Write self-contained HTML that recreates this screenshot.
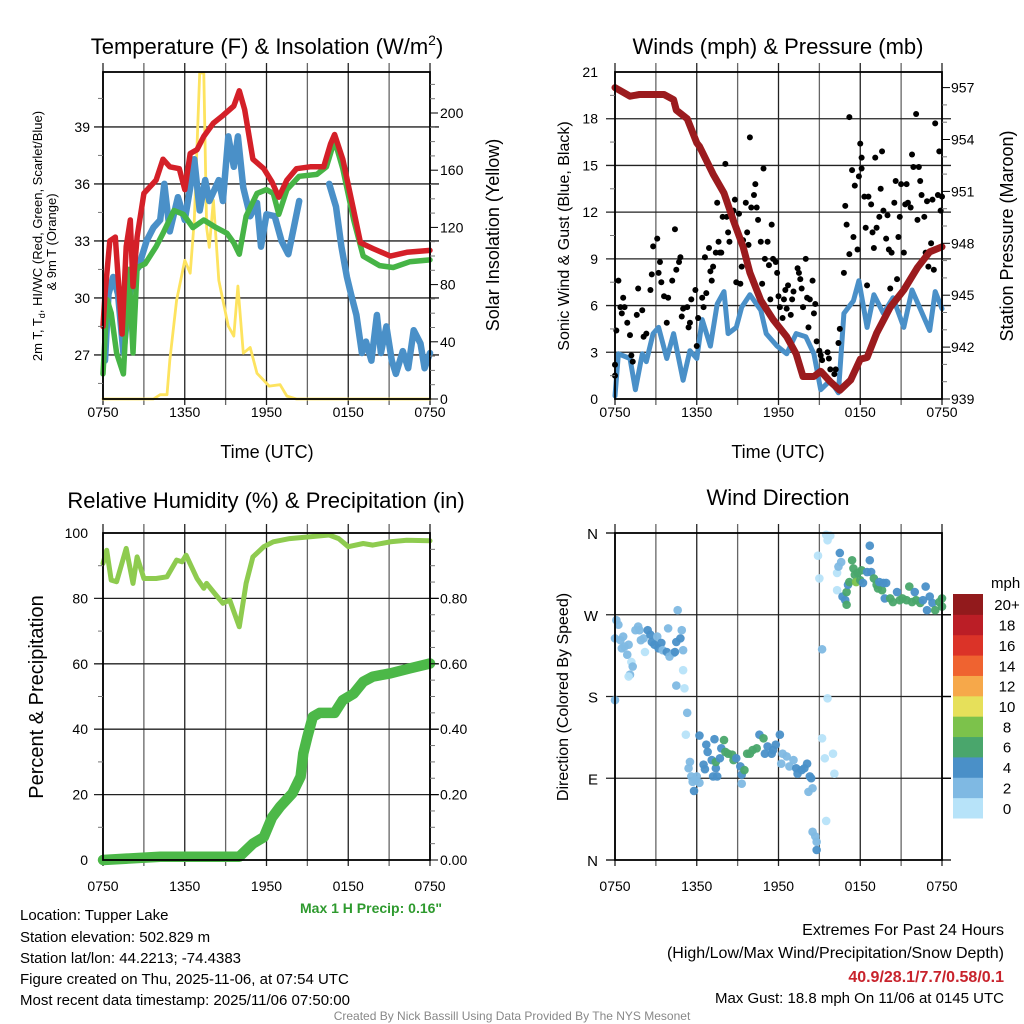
<!DOCTYPE html>
<html><head><meta charset="utf-8">
<style>
html,body{margin:0;padding:0;background:#fff;}
svg{display:block;font-family:"Liberation Sans",Arial,sans-serif;}
</style></head>
<body>
<svg id="chart" width="1024" height="1024" viewBox="0 0 1024 1024" xmlns="http://www.w3.org/2000/svg">
<rect x="0" y="0" width="1024" height="1024" fill="#fff"/>
<g id="layer-grid"></g>
<g id="layer-data"></g>
<g id="layer-axes"></g>
<!-- titles -->
<text x="267" y="54" font-size="22" text-anchor="middle">Temperature (F) &amp; Insolation (W/m<tspan font-size="14" dy="-9">2</tspan><tspan dy="9">)</tspan></text>
<text x="778" y="54" font-size="22" text-anchor="middle">Winds (mph) &amp; Pressure (mb)</text>
<text x="266" y="508" font-size="22" text-anchor="middle">Relative Humidity (%) &amp; Precipitation (in)</text>
<text x="778" y="505" font-size="22" text-anchor="middle">Wind Direction</text>
<text x="267" y="458" font-size="18" text-anchor="middle">Time (UTC)</text>
<text x="778" y="458" font-size="18" text-anchor="middle">Time (UTC)</text>
<g font-size="13" text-anchor="middle">
<text transform="translate(42,236) rotate(-90)">2m T, T<tspan font-size="9" dy="3">d</tspan><tspan dy="-3">, HI/WC (Red, Green, Scarlet/Blue)</tspan></text>
<text transform="translate(56,242) rotate(-90)">&amp; 9m T (Orange)</text>
</g>
<text transform="translate(499,235) rotate(-90)" font-size="18" text-anchor="middle">Solar Insolation (Yellow)</text>
<text transform="translate(569,236) rotate(-90)" font-size="16" text-anchor="middle">Sonic Wind &amp; Gust (Blue, Black)</text>
<text transform="translate(1013,236) rotate(-90)" font-size="18" text-anchor="middle">Station Pressure (Maroon)</text>
<text transform="translate(43,697) rotate(-90)" font-size="20" text-anchor="middle">Percent &amp; Precipitation</text>
<text transform="translate(568,697) rotate(-90)" font-size="16" text-anchor="middle">Direction (Colored By Speed)</text>
<text x="300" y="913" font-size="14" font-weight="bold" fill="#2e9a2e">Max 1 H Precip: 0.16"</text>
<g font-size="15">
<text x="20" y="920">Location: Tupper Lake</text>
<text x="20" y="942">Station elevation: 502.829 m</text>
<text x="20" y="963">Station lat/lon: 44.2213; -74.4383</text>
<text x="20" y="984">Figure created on Thu, 2025-11-06, at 07:54 UTC</text>
<text x="20" y="1005">Most recent data timestamp: 2025/11/06 07:50:00</text>
</g>
<g font-size="16" text-anchor="end">
<text x="1004" y="935">Extremes For Past 24 Hours</text>
<text x="1004" y="958">(High/Low/Max Wind/Precipitation/Snow Depth)</text>
<text x="1004" y="982" font-weight="bold" fill="#c8232c">40.9/28.1/7.7/0.58/0.1</text>
<text x="1004" y="1003" font-size="15">Max Gust: 18.8 mph On 11/06 at 0145 UTC</text>
</g>
<text x="512" y="1020" font-size="12" fill="#888" text-anchor="middle">Created By Nick Bassill Using Data Provided By The NYS Mesonet</text>
<g id="colorbar"></g>
</svg>
<script>
// ---------- Panel 1: temperature ----------
const tempHours=[0,0.15,0.5,0.9,1.4,1.7,2.0,2.2,2.5,3.0,3.9,4.4,4.9,5.6,6.0,6.4,6.9,7.4,8.1,8.8,9.6,10.0,10.4,11.0,11.8,12.4,12.9,13.5,14.2,15.2,16.2,16.7,17.0,17.6,18.4,18.9,19.8,21.1,22.3,24];
const tempValues=[28.5,30.2,33.0,33.2,28.1,32.7,34.1,30.6,33.2,35.5,36.2,37.3,36.9,36.8,35.7,37.6,37.8,38.5,39.2,39.6,40.1,40.9,39.9,37.3,36.8,36.1,35.3,36.2,36.8,36.9,36.9,38.1,38.6,37.3,34.6,32.9,32.6,32.2,32.4,32.5];
const greenHours=[0,0.3,0.6,1.0,1.5,1.7,1.9,2.2,2.5,3.1,3.9,4.4,5.2,5.9,6.6,7.4,8.3,9.1,9.6,10.0,10.5,11.3,12.0,12.5,12.9,13.5,14.4,15.7,16.4,17.0,17.6,18.4,19.1,20.3,21.3,22.5,24];
const greenValues=[26.0,29.9,29.2,27.1,26.0,28.8,31.5,27.1,31.6,31.8,32.7,33.4,34.6,34.4,33.7,34.1,33.7,33.4,32.9,32.3,34.3,35.5,35.7,35.5,34.4,35.7,36.4,36.5,36.9,38.3,36.8,34.1,32.2,31.7,31.6,31.9,32.0];
const blueHoursA=[0.15,0.4,0.75,1.1,1.5,1.9,2.2,2.6,3.2,3.7,4.2,4.5,4.9,5.5,6.0,6.4,6.7,7.1,7.5,7.8,8.5,8.8,9.2,9.6,9.9,10.3,10.8,11.3,11.6,12.0,12.6,13.1,13.6,14.0,14.4];
const blueValuesA=[26.7,30.2,31.1,30.2,27.1,29.9,31.3,31.6,33.0,33.7,34.1,36.0,33.5,35.3,34.1,35.8,37.3,34.6,36.2,35.1,36.2,35.1,38.5,36.9,38.5,35.8,34.3,35.0,32.7,34.4,34.3,33.0,32.3,33.7,35.1];
const blueHoursB=[16.6,17.1,17.5,17.9,18.2,18.6,19.0,19.3,19.7,20.1,20.4,20.8,21.2,21.5,22.0,22.4,22.8,23.3,23.6,24];
const blueValuesB=[36.0,34.8,32.7,31.1,30.2,29.1,27.1,27.7,26.7,29.1,27.1,28.5,26.7,26.0,27.2,26.3,28.3,27.6,26.3,27.1];
const solarHours=[0,3.7,4.2,4.7,4.9,5.4,6.0,6.4,6.7,7.1,7.4,7.6,7.8,8.1,8.5,8.8,9.2,9.6,9.9,10.3,10.8,11.3,11.8,12.2,13.0,13.5,14.2,24];
const solarValues=[0,0,3,3,27,69,97,88,125,228,228,120,106,139,83,69,51,44,79,32,36,18,13,9,10,2,0,0];
const tempTicks=[27,30,33,36,39];
const solarTicks=[0,40,80,120,160,200];
const timeLabels=["0750","1350","1950","0150","0750"];
// ---------- Panel 2: winds ----------
const windHours=[0,0.25,1.1,1.5,2.0,2.3,2.8,3.2,3.8,4.3,5.0,5.5,6.0,6.4,7.0,7.5,8.0,8.3,8.9,9.3,9.9,10.7,11.1,11.9,12.6,13.3,14.0,14.6,15.1,15.8,16.4,16.8,17.5,17.9,18.5,19.0,19.7,20.4,21.2,21.8,22.4,23.1,23.5,24];
const windValues=[0.2,2.9,2.6,0.6,2.9,2.4,4.2,4.6,2.6,4.2,1.2,3.1,2.6,5.1,3.4,6.1,6.9,4.2,4.6,5.9,6.7,5.7,4.2,3.4,2.9,4.2,4.0,2.9,0.6,1.2,0.4,5.5,6.3,7.6,4.6,6.7,5.5,6.5,4.6,7.0,5.8,4.4,6.9,5.8];
const gustHours=[0,0,0.1,0.25,0.4,0.6,0.7,0.5,0.9,1.1,1.2,1.3,1.6,1.7,2.0,2.1,2.3,2.6,2.7,2.8,3.1,3.2,3.3,3.4,3.6,3.8,3.9,4.2,4.4,4.5,4.7,4.8,5.0,5.3,4.9,5.4,5.5,5.6,5.9,6.0,6.1,6.4,6.5,6.6,6.7,6.9,7.0,7.1,7.2,7.4,7.5,7.6,7.7,7.8,7.9,8.1,8.2,8.3,8.4,8.6,8.7,8.8,8.9,9.1,9.2,9.3,9.4,9.6,9.7,9.8,9.9,10.0,10.2,10.3,10.4,10.5,10.7,10.8,10.9,11.0,11.2,11.3,11.4,11.5,11.6,11.8,11.9,12.0,12.1,12.3,12.4,12.5,12.6,12.7,12.9,13.0,13.1,13.4,13.5,13.6,13.7,13.8,14.0,14.1,14.2,14.3,14.5,14.6,14.7,14.8,15.0,15.1,15.2,15.6,15.7,15.8,16.1,16.2,16.4,16.5,16.8,16.9,17.0,17.2,17.2,17.4,17.5,17.6,17.8,17.9,18.0,18.1,18.1,18.3,18.4,18.5,18.6,18.8,18.9,19.0,19.1,19.2,19.4,19.5,19.6,19.7,19.9,20.0,20.1,20.2,20.3,20.5,20.6,20.7,20.8,20.9,21.0,21.2,21.3,21.4,21.5,21.7,21.8,21.9,22.1,22.2,22.3,22.4,22.5,22.7,22.8,22.9,23.0,23.2,23.3,23.4,23.5,23.7,23.8,23.9,24];
const gustValues=[1.5,2.2,4.4,7.6,5.9,6.5,5.9,5.5,4.9,4.1,2.8,2.4,5.4,7.1,5.7,4.0,4.2,7.0,8.0,9.8,10.3,8.1,8.8,7.5,6.6,4.9,6.5,7.6,10.9,8.3,8.8,9.1,5.8,5.9,5.3,4.6,4.9,6.4,7.0,3.4,5.2,6.5,5.9,9.1,6.8,9.7,8.2,7.6,8.5,9.4,12.6,10.1,9.4,9.4,11.7,15.1,11.7,10.7,10.1,11.9,12.1,12.8,7.5,11.9,7.4,8.5,10.2,12.6,10.7,9.9,16.8,12.3,13.1,13.8,12.3,11.5,10.1,7.4,14.8,9.0,10.1,8.6,6.4,11.2,9.0,8.8,8.1,6.6,5.9,5.2,6.4,7.0,5.8,7.3,5.4,6.4,6.9,8.4,8.1,7.7,7.1,5.9,9.0,6.5,4.6,6.4,7.6,5.5,6.1,3.7,3.1,2.8,2.5,3.0,2.6,1.9,1.6,1.9,3.6,4.5,8.1,12.4,11.2,9.3,18.1,14.7,10.4,13.7,9.6,14.3,16.4,15.5,14.8,13.0,11.0,7.3,13.0,12.5,10.7,9.7,15.5,11.0,11.7,13.5,15.9,12.1,10.3,11.8,9.6,7.1,9.4,12.6,14.0,7.7,10.4,11.7,13.8,9.4,12.5,13.8,12.6,12.3,15.7,14.9,18.3,11.5,14.9,14.0,13.1,11.7,9.4,12.7,8.5,10.0,12.8,8.3,17.7,13.1,15.9,12.1,13.0];
const presHours=[0,1.1,1.8,3.6,4.3,4.5,5.3,6.0,6.2,7.2,8.0,8.7,9.4,9.9,10.7,11.6,12.6,13.3,13.8,14.6,15.1,15.8,16.5,17.3,18.0,18.5,19.2,20.2,21.2,22.2,23.1,24];
const presValues=[957.0,956.5,956.6,956.6,956.3,955.7,955.2,953.8,953.6,952.0,950.9,949.3,947.8,946.3,944.7,943.6,942.6,941.6,940.3,940.3,940.6,940.0,939.5,940.1,941.3,941.4,942.8,944.3,945.3,946.6,947.5,947.8];
const windTicks=[0,3,6,9,12,15,18,21];
const presTicks=[939,942,945,948,951,954,957];
// ---------- Panel 3: humidity ----------
const rhHours=[0,0.27,0.6,1.0,1.7,2.2,2.5,3.0,3.9,4.7,5.4,5.8,6.1,6.9,7.4,7.6,8.2,8.8,9.3,10.0,10.5,11.0,11.8,12.5,13.7,16.6,17.3,18.0,19.1,19.8,21.1,22.3,24];
const rhValues=[90.7,94.7,85.6,85.1,95.3,84.6,92.7,86.1,86.1,86.6,91.7,91.2,93.2,86.1,83.1,84.6,81.5,78.5,79.5,71.3,84.6,92.7,95.8,97.3,98.3,99.4,98.3,95.8,96.8,96.3,97.3,97.8,97.6];
const precipHours=[0,4.2,10.0,11.0,11.8,12.4,13.0,13.9,14.5,14.7,15.0,15.4,15.9,17.0,17.6,18.4,19.1,19.8,21.1,22.5,24];
const precipValues=[0,0.01,0.01,0.05,0.07,0.13,0.163,0.204,0.255,0.326,0.377,0.438,0.45,0.45,0.489,0.509,0.545,0.561,0.571,0.586,0.601];
const pctTicks=[0,20,40,60,80,100];
const precipTicks=["0.00","0.20","0.40","0.60","0.80"];
// ---------- Panel 4: wind direction ----------
const dirHours=[0,0.1,0.25,0,0.4,0.6,0.5,0.7,0.9,1.0,1.2,1.3,1.1,1.0,1.7,1.8,1.5,2.1,2.2,1.9,2.4,2.6,2.7,2.9,3.1,3.2,3.4,3.5,3.8,3.9,4.0,4.3,4.4,4.5,4.8,4.9,4.6,5.0,5.0,4.5,5.1,5.3,5.2,5.4,5.5,5.6,5.7,5.9,5.8,6.0,6.2,6.2,6.5,6.6,6.7,6.8,7.1,7.2,7.3,7.4,7.5,7.4,7.7,7.8,8.0,8.1,8.3,8.6,8.7,8.9,9.2,9.3,9.3,9.5,9.7,9.9,10.1,10.4,10.6,10.9,11.0,11.2,11.5,11.6,11.8,12.1,12.2,12.3,12.6,12.8,13.1,13.3,13.4,13.7,13.9,14.1,14.3,14.4,14.2,14.5,14.5,14.7,14.8,14.8,15.2,14.9,15.0,15.2,15.4,15.5,15.8,15.6,15.6,15.5,16.0,16.1,16.3,16.4,16.5,16.6,16.3,16.7,16.9,17.0,17.0,17.1,17.2,17.4,17.5,17.6,17.7,17.8,18.0,18.1,18.2,18.5,18.7,18.7,18.8,19.0,19.2,19.3,19.4,19.6,19.7,19.8,19.9,20.2,20.4,20.7,20.9,21.1,21.4,21.6,21.8,22.0,22.1,22.4,22.6,22.8,22.9,23.1,23.3,23.5,23.8,24.0,24.0];
const dirValues=[176,264,259,244,242,246,233,235,226,237,218,213,204,202,257,253,253,244,229,242,253,248,240,237,246,233,239,231,229,255,224,228,229,240,244,253,275,231,209,192,189,162,138,101,108,92,86,88,76,92,85,137,105,100,127,119,110,92,133,101,92,108,112,123,132,119,117,116,110,112,103,94,84,99,117,117,121,123,138,134,117,125,117,121,127,138,106,117,114,103,110,101,95,99,101,106,92,90,75,79,31,26,20,11,232,335,310,134,112,358,357,352,178,43,117,95,316,323,338,328,297,290,286,281,295,303,306,330,321,314,306,316,308,319,305,317,346,330,317,310,303,299,306,297,305,288,305,288,284,295,286,288,286,301,284,295,286,283,286,301,275,290,283,275,284,288,279];
const dirSpeeds=[2,2,2,2,2,2,2,2,2,2,0,2,2,0,2,2,2,2,0,2,4,4,4,4,2,4,4,2,4,2,2,2,4,4,4,2,2,2,0,2,0,2,0,2,2,2,2,2,4,2,2,4,4,4,4,4,4,4,4,4,4,6,4,4,6,6,6,6,6,4,4,4,2,6,6,6,6,6,4,6,4,4,4,4,4,4,2,2,2,2,2,4,4,4,4,4,4,4,2,2,2,2,2,4,2,0,0,0,0,0,0,0,0,0,0,0,0,2,4,2,0,4,4,6,6,4,6,6,6,6,8,6,6,6,4,4,4,4,4,6,6,6,4,6,4,4,4,6,6,4,6,6,6,6,6,4,6,6,4,4,4,4,4,6,6,6,6];
const directionLabels=["N","E","S","W","N"];
const speedBins=[0,2,4,6,8,10,12,14,16,18,20];
const speedBinLabels=["0","2","4","6","8","10","12","14","16","18","20+"];
const speedColors=["#b7e3f9","#7fb9e3","#4a90c8","#4aa66c","#7cc24b","#e6e05a","#f6a84a","#ef6330","#db3328","#bb1e26","#921a1c"];

const NS="http://www.w3.org/2000/svg";
const grid=document.getElementById('layer-grid');
const dataL=document.getElementById('layer-data');
const axes=document.getElementById('layer-axes');
function mk(tag,attrs,parent){const e=document.createElementNS(NS,tag);for(const k in attrs)e.setAttribute(k,attrs[k]);(parent||dataL).appendChild(e);return e;}
function panel(x0,x1,y0,y1,lmin,lmax,rmin,rmax){
  return {x0,x1,y0,y1,
    sx:h=>x0+(x1-x0)*h/24,
    sy:v=>y1-(y1-y0)*(v-lmin)/(lmax-lmin),
    sr:v=>y1-(y1-y0)*(v-rmin)/(rmax-rmin)};
}
const P1=panel(103,430,72,399,24.68,24.68+327/19,0,327/1.43);
const P2=panel(615,942,72,399,0,21,939,939+327/17.3);
const P3=panel(103,430,533,860,0,100,0,1);
const P4=panel(615,942,533,860,0,360,0,1);

function frame(p,name,xlabY){
  for(let i=0;i<=8;i++){
    const x=p.x0+(p.x1-p.x0)*i/8;
    const l=mk('line',{x1:x,x2:x,y1:p.y0-9,y2:p.y1+6,stroke:(i%2?'#666':'#222'),'stroke-width':1.3},grid);
    
    
  }
  for(let i=0;i<5;i++){
    const t=mk('text',{x:p.x0+(p.x1-p.x0)*i/4,y:xlabY,'font-size':14,'text-anchor':'middle'},axes);
    t.textContent=timeLabels[i];
    
    
  }
  const r=mk('rect',{x:p.x0,y:p.y0,width:p.x1-p.x0,height:p.y1-p.y0,fill:'none',stroke:'#000','stroke-width':1.8},axes);
  
  
}
function hgrid(p,ys,name){
  ys.forEach(y=>{
    const l=mk('line',{x1:p.x0-9,x2:p.x1+9,y1:y,y2:y,stroke:'#222','stroke-width':1.3},grid);
    
    
  });
}
function minorTicks(x,ys,dir){ys.forEach(y=>mk('line',{x1:x,x2:x+dir*5,y1:y,y2:y,stroke:'#777','stroke-width':1},axes));}
function label(x,y,txt,anchor,name,size){
  const t=mk('text',{x:x,y:y,'font-size':size||14,'text-anchor':anchor},axes);
  t.textContent=txt;
  
  
}
function line(p,xs,ys,scale,color,w,name){
  const d=xs.map((h,i)=>(i?'L':'M')+p.sx(h).toFixed(1)+','+scale(ys[i]).toFixed(1)).join('');
  const e=mk('path',{d:d,fill:'none',stroke:color,'stroke-width':w,'stroke-linejoin':'round','stroke-linecap':'round'});
  
  
}

// Panel 1
frame(P1,'temperature',417);
hgrid(P1,tempTicks.map(P1.sy),'temperature');
tempTicks.forEach(v=>label(90,P1.sy(v)+5,String(v),'end','temperature-y-tick-label'));
solarTicks.forEach(v=>{mk('line',{x1:P1.x1,x2:P1.x1+8,y1:P1.sr(v),y2:P1.sr(v),stroke:'#000'},axes);label(440,P1.sr(v)+5,String(v),'start','insolation-y-tick-label');});
minorTicks(P1.x0,[25.5,28.5,31.5,34.5,37.5,40.5].map(P1.sy),-1);
minorTicks(P1.x1,[10,20,30,50,60,70,90,100,110,130,140,150,170,180,190,210,220].map(P1.sr),1);
line(P1,solarHours,solarValues,P1.sr,'#fde35f',2.8,'insolation-line');
line(P1,blueHoursA,blueValuesA,P1.sy,'#4a90c8',6.5,'windchill-line-a');
line(P1,blueHoursB,blueValuesB,P1.sy,'#4a90c8',6.5,'windchill-line-b');
line(P1,greenHours,greenValues,P1.sy,'#46b446',5.5,'dewpoint-line');
line(P1,tempHours,tempValues,P1.sy,'#d42028',5.5,'temperature-line');

// Panel 2
frame(P2,'winds',417);
hgrid(P2,windTicks.filter(v=>v>0&&v<21).map(P2.sy),'winds');
windTicks.forEach(v=>label(598,P2.sy(v)+5,String(v),'end','wind-y-tick-label'));
presTicks.forEach(v=>{mk('line',{x1:P2.x1,x2:P2.x1+8,y1:P2.sr(v),y2:P2.sr(v),stroke:'#000'},axes);label(951,P2.sr(v)+5,String(v),'start','pressure-y-tick-label');});
minorTicks(P2.x0,[1.5,4.5,7.5,10.5,13.5,16.5,19.5].map(P2.sy),-1);
minorTicks(P2.x1,[940,941,943,944,946,947,949,950,952,953,955,956].map(P2.sr),1);
line(P2,windHours,windValues,P2.sy,'#4a90c8',5,'wind-speed-line');
gustHours.forEach((h,i)=>{
  const c=mk('circle',{cx:P2.sx(h),cy:P2.sy(gustValues[i]),r:3,fill:'#000'});
  
  
});
line(P2,presHours,presValues,P2.sr,'#9b1b1e',7,'pressure-line');

// Panel 3
frame(P3,'humidity',891);
hgrid(P3,pctTicks.filter(v=>v>0&&v<100).map(P3.sy),'humidity');
pctTicks.forEach(v=>label(88,P3.sy(v)+5,String(v),'end','percent-y-tick-label'));
precipTicks.forEach(s=>{const v=parseFloat(s);mk('line',{x1:P3.x1,x2:P3.x1+8,y1:P3.sr(v),y2:P3.sr(v),stroke:'#000'},axes);label(440,P3.sr(v)+5,s,'start','precip-y-tick-label');});
minorTicks(P3.x0,[10,30,50,70,90].map(P3.sy),-1);
minorTicks(P3.x1,[0.05,0.1,0.15,0.25,0.3,0.35,0.45,0.5,0.55,0.65,0.7,0.75,0.85,0.9,0.95].map(P3.sr),1);
line(P3,rhHours,rhValues,P3.sy,'#8ecb4f',5,'humidity-line');
line(P3,precipHours,precipValues,P3.sr,'#4cb848',10.5,'precipitation-line');

// Panel 4
frame(P4,'direction',891);
hgrid(P4,[90,180,270].map(P4.sy),'direction');
[0,360].forEach(v=>mk('line',{x1:P4.x0-9,x2:P4.x0,y1:P4.sy(v),y2:P4.sy(v),stroke:'#000','stroke-width':1.3},axes));
[0,90,180,270].forEach(v=>mk('line',{x1:P4.x1,x2:P4.x1+9,y1:P4.sy(v),y2:P4.sy(v),stroke:'#000','stroke-width':1.3},axes));
directionLabels.forEach((s,i)=>label(598,P4.sy(i*90)+6,s,'end','direction-y-tick-label',15));
dirHours.forEach((h,i)=>{
  const idx=speedBins.indexOf(dirSpeeds[i]);
  const c=mk('circle',{cx:P4.sx(h),cy:P4.sy(dirValues[i]),r:4.3,fill:speedColors[idx<0?0:idx],'fill-opacity':0.95});
  
  
});

// Colorbar
const cb=document.getElementById('colorbar');
const cbTop=594,cbBot=818,cbH=(cbBot-cbTop)/speedColors.length;
speedColors.forEach((col,i)=>{
  const y=cbBot-(i+1)*cbH;
  const r=mk('rect',{x:953,y:y,width:30,height:cbH+0.5,fill:col},cb);
  
  
  const t=mk('text',{x:1007,y:y+cbH/2+6,'font-size':15,'text-anchor':'middle'},cb);
  t.textContent=speedBinLabels[i];
  
  
});
const mph=mk('text',{x:991,y:588,'font-size':15},cb);
mph.textContent='mph';


</script>
</body></html>
